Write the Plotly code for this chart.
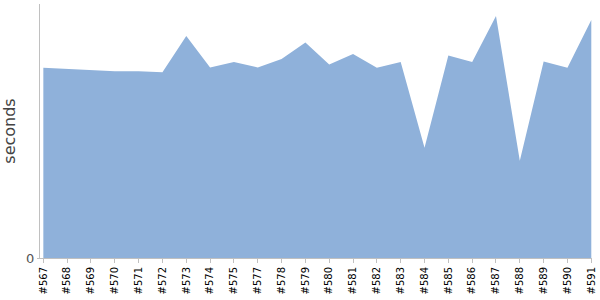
import plotly.graph_objects as go

builds = ["#567", "#568", "#569", "#570", "#571", "#572", "#573", "#574", "#575",
          "#577", "#578", "#579", "#580", "#581", "#582", "#583", "#584", "#585",
          "#586", "#587", "#588", "#589", "#590", "#591"]
seconds = [190.5, 189.5, 188.5, 187, 187, 186, 222.5, 191, 196.5,
           191, 199.5, 216, 194, 204.5, 190.5, 196.5, 110.5, 203,
           196.5, 242.5, 97.5, 197, 190.5, 238.5]

fig = go.Figure()
fig.add_trace(go.Scatter(
    x=builds, y=seconds, mode="lines", fill="tozeroy",
    line=dict(width=0, color="#8fb1da"), fillcolor="#8fb1da",
    hoverinfo="x+y",
))

fig.update_layout(
    width=600, height=300,
    margin=dict(l=40, r=8, t=4, b=41.5),
    paper_bgcolor="white", plot_bgcolor="white",
    showlegend=False,
    font=dict(family="DejaVu Sans", color="#333"),
    xaxis=dict(
        type="category", range=[-0.14, 23.03],
        showline=True, linecolor="#c0c0c0", linewidth=1,
        showgrid=False, zeroline=False,
        ticks="outside", ticklen=4, tickcolor="#c0c0c0",
        tickangle=-90, tickfont=dict(size=10, color="black"),
    ),
    yaxis=dict(
        range=[0, 254.5],
        showline=True, linecolor="#c0c0c0", linewidth=1,
        showgrid=False, zeroline=False,
        tickvals=[0], ticktext=["0"],
        ticks="outside", ticklen=2, tickcolor="#c0c0c0",
        tickfont=dict(size=13, color="#555"),
        title=dict(text="seconds", font=dict(size=16, color="#444"), standoff=6),
    ),
)

fig.write_html("out.html")
